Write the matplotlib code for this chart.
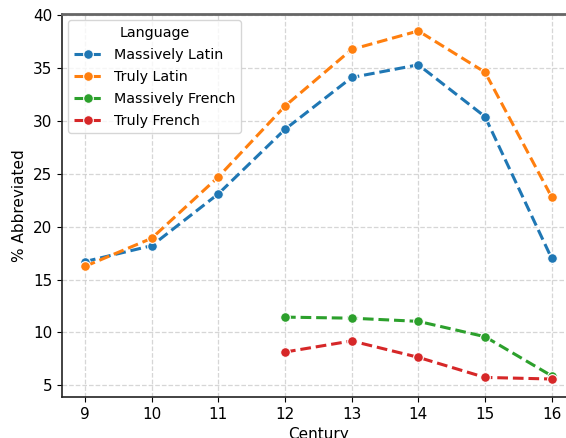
import matplotlib
matplotlib.use("Agg")
import matplotlib.pyplot as plt

centuries = [9, 10, 11, 12, 13, 14, 15, 16]
massively_latin = [16.7, 18.2, 23.1, 29.2, 34.1, 35.3, 30.4, 17.0]
truly_latin = [16.25, 18.9, 24.7, 31.4, 36.75, 38.5, 34.6, 22.8]

french_centuries = [12, 13, 14, 15, 16]
massively_french = [11.45, 11.35, 11.05, 9.6, 5.9]
truly_french = [8.15, 9.2, 7.65, 5.75, 5.6]

series = [
    ("Massively Latin", centuries, massively_latin, "#1f77b4"),
    ("Truly Latin", centuries, truly_latin, "#ff7f0e"),
    ("Massively French", french_centuries, massively_french, "#2ca02c"),
    ("Truly French", french_centuries, truly_french, "#d62728"),
]

fig = plt.figure(figsize=(5.66, 4.38), dpi=100)
ax = fig.add_axes([62 / 566, 41 / 438, 513 / 566, 383 / 438])

for name, xs, ys, color in series:
    ax.plot(xs, ys, linestyle="--", linewidth=2.2, marker="o", markersize=7,
            markeredgecolor="white", markeredgewidth=0.8, color=color,
            label=name, dashes=(3.5, 1.6))

ax.set_xlim(8.655, 16.35)
ax.set_ylim(3.9, 40.1)
ax.set_xticks(centuries)
ax.set_yticks([5, 10, 15, 20, 25, 30, 35, 40])
ax.tick_params(labelsize=11)
ax.grid(True, linestyle="--", color="#cccccc", alpha=0.8, linewidth=0.9)
ax.set_axisbelow(True)

for side in ("left", "bottom"):
    ax.spines[side].set_color("#222222")
    ax.spines[side].set_linewidth(1.2)
ax.spines["top"].set_color("#666666")
ax.spines["top"].set_linewidth(2)

# the reference image is cropped, so "Century" runs off the bottom edge
ax.set_xlabel("Century", fontsize=11)
ax.set_ylabel("% Abbreviated", fontsize=11)
ax.legend(title="Language", loc="upper left", fontsize=10.3, title_fontsize=10.3,
          borderaxespad=0.45, labelspacing=0.55)

fig.savefig("out.png", dpi=100)
